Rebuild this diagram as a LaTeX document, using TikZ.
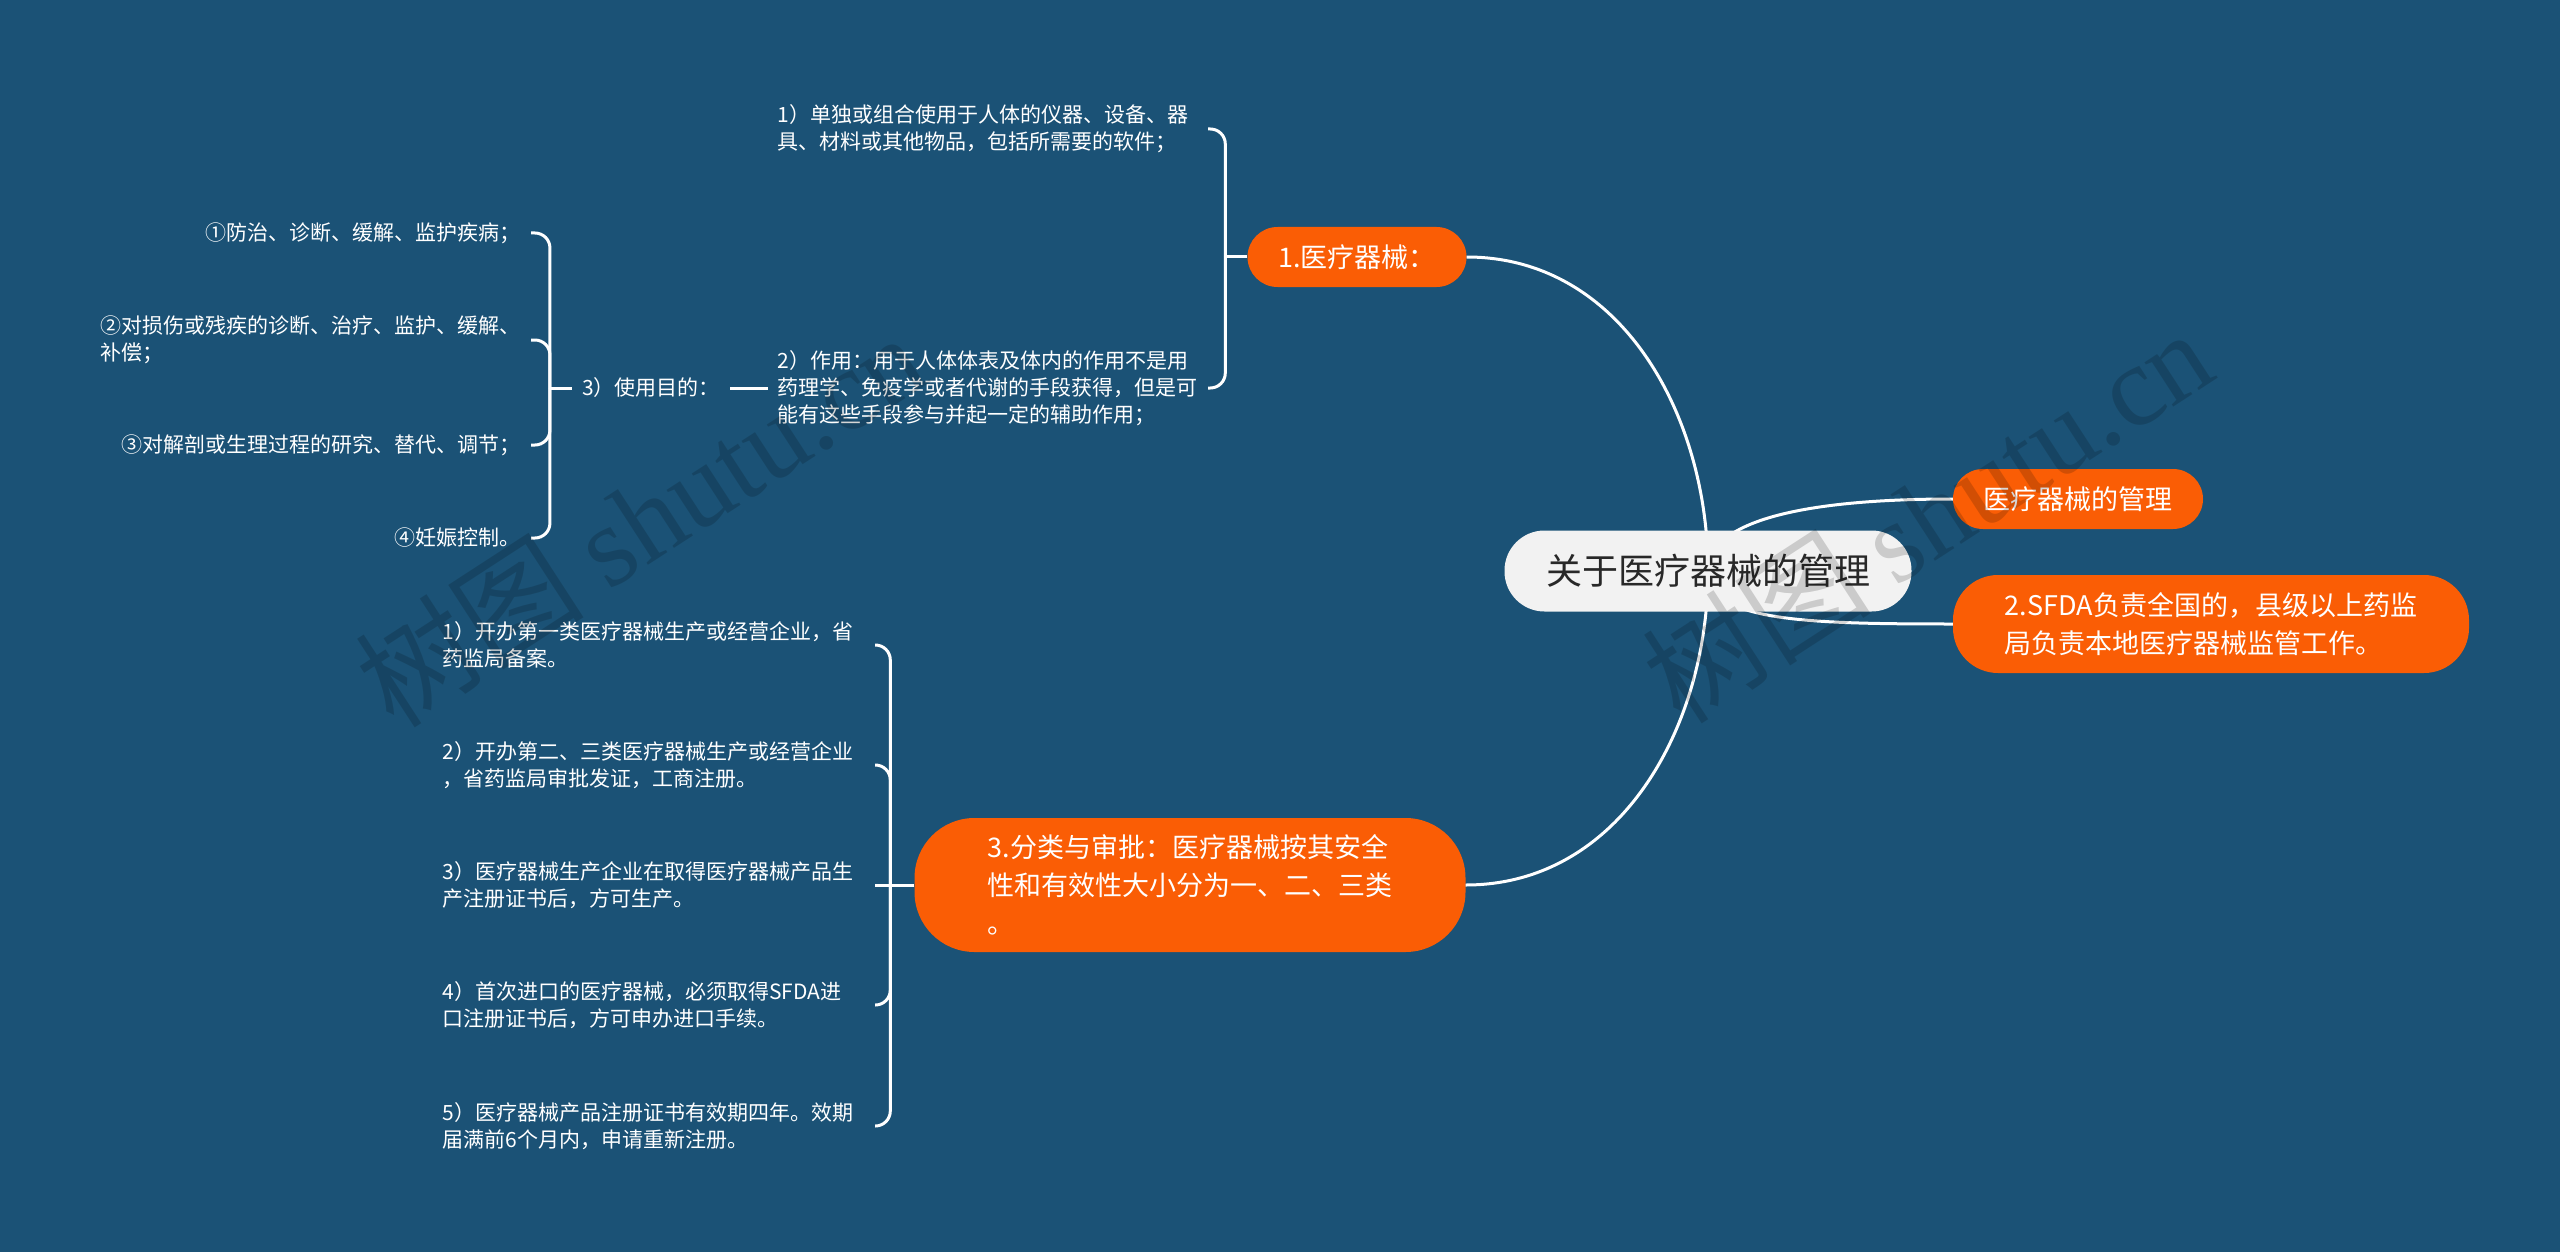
\documentclass[tikz,border=0pt]{standalone}
\usepackage{fontspec}
\setmainfont{Noto Sans CJK SC}
\newfontfamily\markfont{Liberation Serif}
\usepackage{xcolor}
\usepackage{tikz}
\usetikzlibrary{positioning, calc}
\setlength{\parindent}{0pt}

\definecolor{mapblue}{RGB}{27,82,118}
\definecolor{maporange}{RGB}{250,93,5}
\definecolor{rootfill}{RGB}{242,242,242}
\definecolor{roottext}{RGB}{40,40,40}

\begin{document}
\begin{tikzpicture}[
    x=1pt, y=-1pt,
    rootbox/.style={fill=rootfill, text=roottext, rounded corners=40pt, minimum width=407pt, minimum height=81pt, inner sep=0pt, font=\fontsize{36}{44}\selectfont},
    topicbox/.style={fill=maporange, text=white, align=left, inner sep=0pt, font=\fontsize{27}{38}\selectfont},
    leafbox/.style={text=white, align=left, inner xsep=10pt, inner ysep=2pt, font=\fontsize{21}{27}\selectfont},
    link/.style={draw=white, line width=3pt},
    bracket/.style={link, rounded corners=15pt, to path={|- (\tikztotarget)}},
    wmark/.style={text=black, opacity=0.16, rotate=33, font=\fontsize{115}{115}\selectfont},
]

% Background
\fill[mapblue] (0,0) rectangle (2560,1252);

% Main topics round the centre
\coordinate (rootc) at (1708,571);
\node[topicbox, minimum width=219pt, minimum height=60pt, rounded corners=30pt] (yiliao) at (1357,257) {1.医疗器械：};
\node[topicbox, minimum width=250pt, minimum height=60pt, rounded corners=30pt] (guanli) at (2078,499) {医疗器械的管理};
\node[topicbox, minimum width=516pt, minimum height=98pt, rounded corners=45pt] (sfda) at (2211,624) {2.SFDA负责全国的，县级以上药监\\局负责本地医疗器械监管工作。};
\node[topicbox, minimum width=551pt, minimum height=134pt, rounded corners=60pt] (fenlei) at (1190,885) {3.分类与审批：医疗器械按其安全\\性和有效性大小分为一、二、三类\\。};

% Curves from the centre (root drawn on top afterwards)
\draw[link] (rootc) .. controls +(0,-155) and +(155,0) .. (yiliao.east);
\draw[link] (rootc) .. controls +(0,155) and +(155,0) .. (fenlei.east);
\draw[link] (rootc) .. controls +(0,-50) and +(-150,0) .. (guanli.west);
\draw[link] (rootc) .. controls +(0,50) and +(-150,0) .. (sfda.west);

\node[rootbox] (root) at (rootc) {关于医疗器械的管理};

% 1.医疗器械 — definition and function
\node[leafbox, anchor=east, text width=420pt] (danzu) at (1208,129) {1）单独或组合使用于人体的仪器、设备、器\\具、材料或其他物品，包括所需要的软件；};
\node[leafbox, anchor=east, text width=420pt] (zuoyong) at (1208,388) {2）作用：用于人体体表及体内的作用不是用\\药理学、免疫学或者代谢的手段获得，但是可\\能有这些手段参与并起一定的辅助作用；};

\coordinate[left=22pt of yiliao.west] (yiliaoj);
\draw[link] (yiliao.west) -- (yiliaoj);
\draw[bracket] (yiliaoj) to (danzu.east);
\draw[bracket] (yiliaoj) to (zuoyong.east);

% 3）使用目的 — hangs off the function text
\node[leafbox, anchor=east] (mudi) at (730,388) {3）使用目的：};
\draw[link] (zuoyong.west) -- (mudi.east);

\node[leafbox, anchor=east] (mudi1) at (531,233) {①防治、诊断、缓解、监护疾病；};
\node[leafbox, anchor=east] (mudi2) at (531,340) {②对损伤或残疾的诊断、治疗、监护、缓解、\\补偿；};
\node[leafbox, anchor=east] (mudi3) at (531,445) {③对解剖或生理过程的研究、替代、调节；};
\node[leafbox, anchor=east] (mudi4) at (531,538) {④妊娠控制。};

\coordinate[left=22pt of mudi.west] (mudij);
\draw[link] (mudi.west) -- (mudij);
\draw[bracket] (mudij) to (mudi1.east);
\draw[bracket] (mudij) to (mudi2.east);
\draw[bracket] (mudij) to (mudi3.east);
\draw[bracket] (mudij) to (mudi4.east);

% 3.分类与审批 — five rules
\node[leafbox, anchor=east, text width=422pt] (tiao1) at (875,645) {1）开办第一类医疗器械生产或经营企业，省\\药监局备案。};
\node[leafbox, anchor=east, text width=422pt] (tiao2) at (875,765) {2）开办第二、三类医疗器械生产或经营企业\\，省药监局审批发证，工商注册。};
\node[leafbox, anchor=east, text width=422pt] (tiao3) at (875,885) {3）医疗器械生产企业在取得医疗器械产品生\\产注册证书后，方可生产。};
\node[leafbox, anchor=east, text width=422pt] (tiao4) at (875,1005) {4）首次进口的医疗器械，必须取得SFDA进\\口注册证书后，方可申办进口手续。};
\node[leafbox, anchor=east, text width=422pt] (tiao5) at (875,1126) {5）医疗器械产品注册证书有效期四年。效期\\届满前6个月内，申请重新注册。};

\coordinate[left=24pt of fenlei.west] (fenleij);
\draw[link] (fenlei.west) -- (tiao3.east);
\draw[bracket] (fenleij) to (tiao1.east);
\draw[bracket] (fenleij) to (tiao2.east);
\draw[bracket] (fenleij) to (tiao4.east);
\draw[bracket] (fenleij) to (tiao5.east);

% Watermarks
\node[wmark] (mark1) at (640,519) {树图 {\markfont shutu.cn}};
\node[wmark] (mark2) at (1927,515) {树图 {\markfont shutu.cn}};

\end{tikzpicture}
\end{document}
